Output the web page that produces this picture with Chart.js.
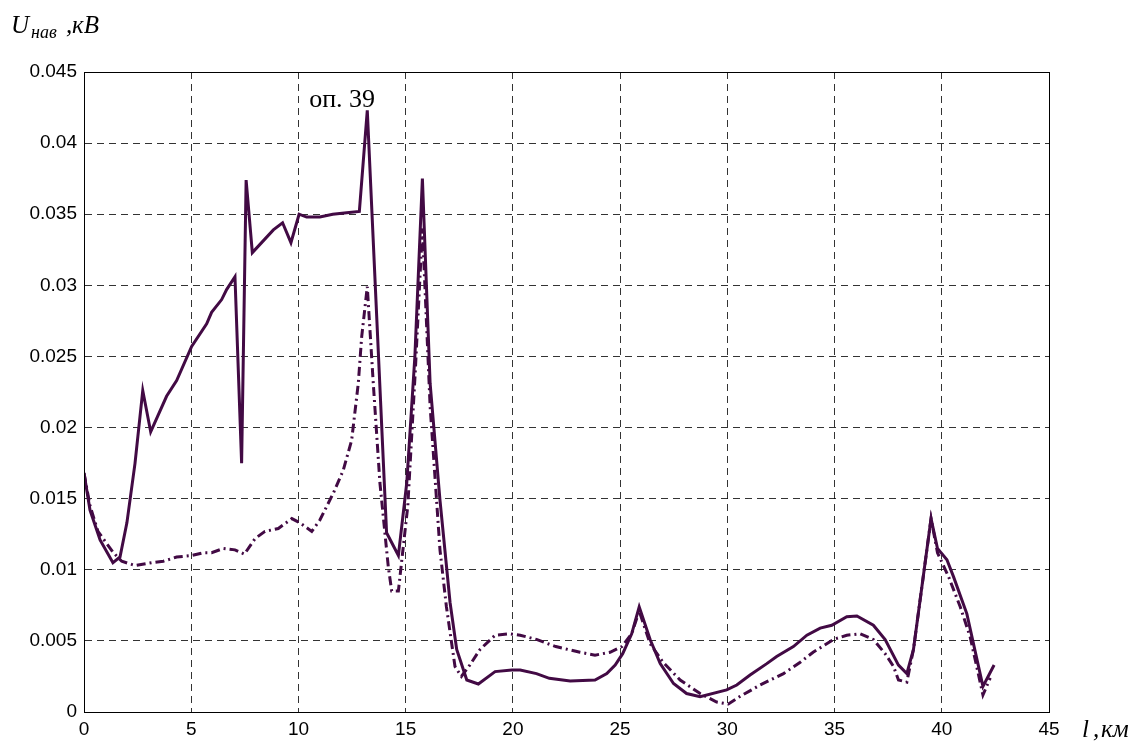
<!DOCTYPE html>
<html>
<head>
<meta charset="utf-8">
<title>U нав</title>
<script src="https://cdn.jsdelivr.net/npm/chart.js@4/dist/chart.umd.min.js"></script>
<style>
  html, body { margin: 0; padding: 0; background: #fff; }
  canvas { display: block; }
</style>
</head>
<body>
<canvas id="voltageChart" width="1142" height="745"></canvas>
<script>
// distance along the line, km / induced voltage, kV
const solidX = [0, 0.28, 0.75, 1.35, 1.68, 2.0, 2.38, 2.74, 3.11, 3.85, 4.32, 5.02, 5.72, 5.95, 6.42, 6.65, 7.04, 7.35, 7.56, 7.85,
    8.83, 9.26, 9.65, 10.03, 10.38, 11.0, 11.6, 12.25, 12.84, 13.21, 14.11, 14.66, 15.05, 15.43, 15.78, 16.14, 16.6, 17.07, 17.38, 17.85,
    18.39, 19.17, 19.95, 20.34, 21.1, 21.7, 22.67, 23.83, 24.38, 24.77, 25.12, 25.54, 25.89, 26.4, 26.87, 27.49, 28.1, 28.73, 29.97,
    30.44, 31.06, 31.84, 32.3, 33.08, 33.71, 34.33, 34.87, 35.57, 36.04, 36.81, 37.36, 37.98, 38.37, 38.68, 39.5, 39.8, 40.24, 40.55,
    41.17, 41.92, 42.44];
const solidY = [0.0168, 0.0142, 0.0121, 0.0105, 0.0109, 0.0133, 0.0175, 0.0226, 0.0197, 0.0222, 0.0233, 0.0257, 0.0273, 0.0281, 0.029, 0.0297, 0.0306, 0.0175, 0.0374, 0.0323,
    0.0339, 0.0344, 0.033, 0.035, 0.0348, 0.0348, 0.035, 0.0351, 0.0352, 0.0423, 0.0126, 0.011, 0.0161, 0.025, 0.0375, 0.0231, 0.0149, 0.0077, 0.0044, 0.00225,
    0.00197, 0.00284, 0.00295, 0.00295, 0.0027, 0.00237, 0.00218, 0.00225, 0.0027, 0.0033, 0.0041, 0.0055, 0.0074, 0.0051, 0.0034, 0.002, 0.0013, 0.00108, 0.00155,
    0.0019, 0.0026, 0.0034, 0.0039, 0.0046, 0.0054, 0.0059, 0.0061, 0.0067, 0.00675, 0.0061, 0.0051, 0.0033, 0.0027, 0.0044, 0.0136, 0.0115, 0.0107, 0.0095,
    0.0069, 0.0018, 0.0033];

const dashX = [0, 0.28, 0.65, 1.37, 1.76, 2.38, 3.16, 3.7, 4.32, 5.02, 5.57, 5.95, 6.5, 7.04, 7.48, 7.98, 8.44, 9.06, 9.69, 10.07,
    10.62, 11.0, 11.63, 12.09, 12.48, 12.79, 12.95, 13.21, 13.49, 13.8, 14.19, 14.35, 14.66, 15.1, 15.45, 15.78, 16.14, 16.6, 16.9, 17.3,
    17.6, 17.99, 18.47, 19.17, 19.87, 20.34, 21.1, 22.0, 23.13, 23.83, 24.53, 25.08, 25.54, 25.89, 26.4, 27.0, 27.8, 28.73, 29.5, 30.05,
    30.6, 31.53, 32.62, 33.4, 34.0, 34.95, 35.57, 36.19, 36.81, 37.36, 37.75, 37.98, 38.37, 38.68, 39.5, 39.8, 40.32, 40.86, 41.32, 41.92,
    42.26];
const dashY = [0.0168, 0.0145, 0.0127, 0.0112, 0.0106, 0.0103, 0.0105, 0.0106, 0.0109, 0.011, 0.0112, 0.0112, 0.0115, 0.0114, 0.0111, 0.0122, 0.0127, 0.0129, 0.0136, 0.0133,
    0.0127, 0.0135, 0.0154, 0.017, 0.0191, 0.0231, 0.0264, 0.0299, 0.0231, 0.0161, 0.0102, 0.0085, 0.0085, 0.0145, 0.024, 0.034, 0.0215, 0.0114, 0.0074, 0.0032,
    0.0025, 0.0033, 0.0044, 0.0054, 0.0055, 0.0054, 0.0051, 0.0046, 0.0042, 0.004, 0.0042, 0.0046, 0.0055, 0.0071, 0.0048, 0.0035, 0.00225, 0.0013, 0.0007, 0.00056,
    0.0011, 0.0019, 0.0027, 0.0035, 0.0042, 0.0051, 0.0054, 0.0055, 0.0051, 0.0041, 0.0032, 0.00225, 0.0021, 0.0044, 0.0136, 0.0112, 0.0095, 0.0074, 0.0053, 0.0012,
    0.0024];

// annotated support
const noteText = 'оп. 39';
const noteX = 10.5;
const noteY = 0.04255;

const lineColor = '#420a44';
const serif = '"Liberation Serif", "Times New Roman", serif';

const toPoints = (xs, ys) => xs.map((x, i) => ({ x: x, y: ys[i] }));

// frame on all four sides + axis titles + note
const decorations = {
    id: 'decorations',
    afterDraw(chart) {
        const ctx = chart.ctx;
        const a = chart.chartArea;
        ctx.save();
        ctx.setLineDash([]);
        ctx.strokeStyle = '#000';
        ctx.lineWidth = 1;
        ctx.strokeRect(Math.round(a.left) + 0.5, Math.round(a.top) + 0.5,
            Math.round(a.right - a.left), Math.round(a.bottom - a.top));

        ctx.fillStyle = '#000';
        ctx.textBaseline = 'alphabetic';
        ctx.textAlign = 'left';
        ctx.font = 'italic 25px ' + serif;
        ctx.fillText('U', 11, 33);
        ctx.font = 'italic 18px ' + serif;
        ctx.fillText('нав', 31, 38);
        ctx.font = 'italic 25px ' + serif;
        ctx.fillText(',', 66, 33);
        ctx.fillText('кВ', 72, 33);

        ctx.fillText('l', 1082, 737);
        ctx.fillText(',', 1093, 737);
        ctx.fillText('км', 1101, 737);

        ctx.font = '26px ' + serif;
        ctx.fillText(noteText, chart.scales.x.getPixelForValue(noteX), chart.scales.y.getPixelForValue(noteY));
        ctx.restore();
    }
};

const gridStyle = {
    color: 'rgba(0,0,0,0.8)',
    lineWidth: 1,
    drawTicks: false
};
const borderStyle = { display: true, color: '#000', width: 1, dash: [7, 5] };

new Chart(document.getElementById('voltageChart').getContext('2d'), {
    type: 'line',
    data: {
        datasets: [{
            label: 'U',
            data: toPoints(solidX, solidY),
            borderColor: lineColor,
            borderWidth: 3,
            pointRadius: 0,
            tension: 0,
            fill: false
        }, {
            label: 'U2',
            data: toPoints(dashX, dashY),
            borderColor: lineColor,
            borderWidth: 3,
            borderDash: [9, 4, 2, 4],
            pointRadius: 0,
            tension: 0,
            fill: false
        }]
    },
    options: {
        responsive: false,
        animation: false,
        layout: { padding: { left: 0, right: 93, top: 72, bottom: 0 } },
        plugins: {
            legend: { display: false },
            tooltip: { enabled: false }
        },
        scales: {
            x: {
                type: 'linear',
                min: 0,
                max: 45,
                ticks: {
                    stepSize: 5,
                    padding: 6,
                    color: '#000',
                    font: { family: '"Liberation Sans", Arial, sans-serif', size: 19 }
                },
                grid: gridStyle,
                border: borderStyle,
                afterFit(scale) { scale.height = 33; }
            },
            y: {
                type: 'linear',
                min: 0,
                max: 0.045,
                ticks: {
                    stepSize: 0.005,
                    padding: 7,
                    color: '#000',
                    font: { family: '"Liberation Sans", Arial, sans-serif', size: 19 },
                    callback: v => String(+v.toFixed(3))
                },
                grid: gridStyle,
                border: borderStyle,
                afterFit(scale) { scale.width = 84; }
            }
        }
    },
    plugins: [decorations]
});
</script>
</body>
</html>
